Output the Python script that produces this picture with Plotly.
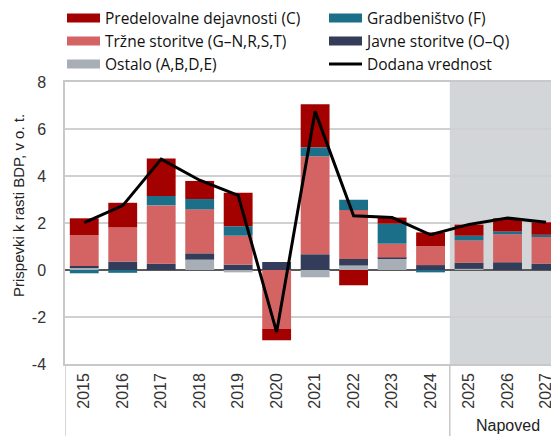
import plotly.graph_objects as go

years = ['2015', '2016', '2017', '2018', '2019', '2020', '2021', '2022', '2023', '2024', '2025', '2026', '2027']
predelovalne = [0.72, 1.05, 1.59, 0.77, 1.43, -0.48, 1.83, -0.65, 0.26, 0.59, 0.47, 0.56, 0.53]
gradbenistvo = [-0.14, -0.12, 0.40, 0.44, 0.40, 0.0, 0.38, 0.44, 0.85, -0.10, 0.20, 0.12, 0.07]
trzne = [1.31, 1.45, 2.48, 1.87, 1.23, -2.51, 4.17, 2.08, 0.59, 0.80, 0.95, 1.19, 1.16]
javne = [0.05, 0.36, 0.27, 0.27, 0.23, 0.34, 0.67, 0.28, 0.06, 0.21, 0.26, 0.33, 0.27]
ostalo = [0.12, 0.0, 0.0, 0.44, -0.10, 0.0, -0.31, 0.19, 0.47, 0.0, 0.05, 0.0, 0.0]
dodana = [2.02, 2.74, 4.72, 3.82, 3.18, -2.64, 6.75, 2.31, 2.23, 1.50, 1.94, 2.21, 2.03]
y_tickvals = [-4, -2, 0, 2, 4, 6, 8]
y_ticktext = ['-4', '-2', '0', '2', '4', '6', '8']

names = {
    'C': 'Predelovalne dejavnosti (C)',
    'F': 'Gradbeništvo (F)',
    'T': 'Tržne storitve (G–N,R,S,T)',
    'J': 'Javne storitve (O–Q)',
    'O': 'Ostalo (A,B,D,E)',
    'V': 'Dodana vrednost',
}
colors = {'C': '#a30000', 'F': '#1b6f88', 'T': '#d46464', 'J': '#333c59', 'O': '#a7aeb5'}

W, H = 551, 436
L, R, T, B = 65, 0, 82, 72
pw, ph = W - L - R, H - T - B
xmax = -0.5 + pw / 38.48


def px_x(x):
    return (x - L) / pw


def px_y(y):
    return (T + ph - y) / ph


fig = go.Figure()
# stacking order (bottom-up)
for key, vals in [('O', ostalo), ('J', javne), ('T', trzne), ('F', gradbenistvo), ('C', predelovalne)]:
    fig.add_trace(go.Bar(x=years, y=vals, name=names[key], marker=dict(color=colors[key], line=dict(width=0)),
                         showlegend=False))
fig.add_trace(go.Scatter(x=years, y=dodana, mode='lines', line=dict(color='black', width=3),
                         name=names['V'], showlegend=False))

# legend entries: one small legend per entry for exact placement
legend_pos = {
    'C': (62, 18.5), 'F': (324, 18.5),
    'T': (62, 41.5), 'J': (324, 41.5),
    'O': (62, 64.5), 'V': (324, 64.5),
}
legend_layout = {}
for i, key in enumerate(['C', 'F', 'T', 'J', 'O', 'V']):
    lname = 'legend' if i == 0 else f'legend{i + 1}'
    color = colors.get(key, 'black')
    width = 3 if key == 'V' else 9
    fig.add_trace(go.Scatter(x=[None], y=[None], mode='lines', name=names[key],
                             line=dict(color=color, width=width), legend=lname))
    lx, ly = legend_pos[key]
    legend_layout[lname] = dict(x=px_x(lx), y=px_y(ly), xanchor='left', yanchor='middle',
                                orientation='h', itemwidth=33, borderwidth=0,
                                font=dict(family='Open Sans', size=15.5, color='#111'),
                                bgcolor='rgba(0,0,0,0)')

fig.add_shape(type='rect', xref='x', yref='paper', x0=9.5, x1=13, y0=0, y1=1,
              fillcolor='#d3d6d9', line=dict(width=0), layer='below')
for xv in [-0.5, 9.5]:
    fig.add_shape(type='line', xref='x', yref='paper', x0=xv, x1=xv, y0=0, y1=-B / ph,
                  line=dict(color='#c8c8c8', width=1.5))

fig.add_annotation(text='Prispevki k rasti BDP, v o. t.', xref='paper', yref='paper',
                   x=px_x(18), y=px_y(206), xanchor='center', yanchor='middle',
                   textangle=-90, showarrow=False,
                   font=dict(family='Liberation Sans', size=15, color='#222'))
fig.add_annotation(text='Napoved', xref='x', yref='paper', x=11, y=px_y(425),
                   xanchor='center', yanchor='middle',
                   showarrow=False, font=dict(family='Liberation Sans', size=16, color='#222'))

fig.update_layout(
    width=W, height=H, margin=dict(l=L, r=R, t=T, b=B, pad=0, autoexpand=False),
    paper_bgcolor='white', plot_bgcolor='white',
    barmode='relative', bargap=0.25,
    xaxis=dict(type='category', range=[-0.5, xmax], tickangle=-90, showgrid=False,
               tickfont=dict(family='Liberation Sans', size=16, color='#333'),
               showline=True, linecolor='#c8c8c8', linewidth=1.5, mirror=True, ticks='',
               ticklabelstandoff=1, automargin=False),
    yaxis=dict(range=[-4, 8], tickvals=y_tickvals, ticktext=y_ticktext, showgrid=True,
               gridcolor='#d0d0d0', gridwidth=1.5,
               zeroline=True, zerolinecolor='#595959', zerolinewidth=2,
               tickfont=dict(family='Liberation Sans', size=16, color='#333'),
               showline=True, linecolor='#c8c8c8', linewidth=1.5, mirror=True, ticks='',
               ticklabelstandoff=14, automargin=False),
    **legend_layout,
)
fig.write_html('out.html', config={'displayModeBar': False},
               post_script="document.body.style.margin='0';document.body.style.overflow='hidden';")
